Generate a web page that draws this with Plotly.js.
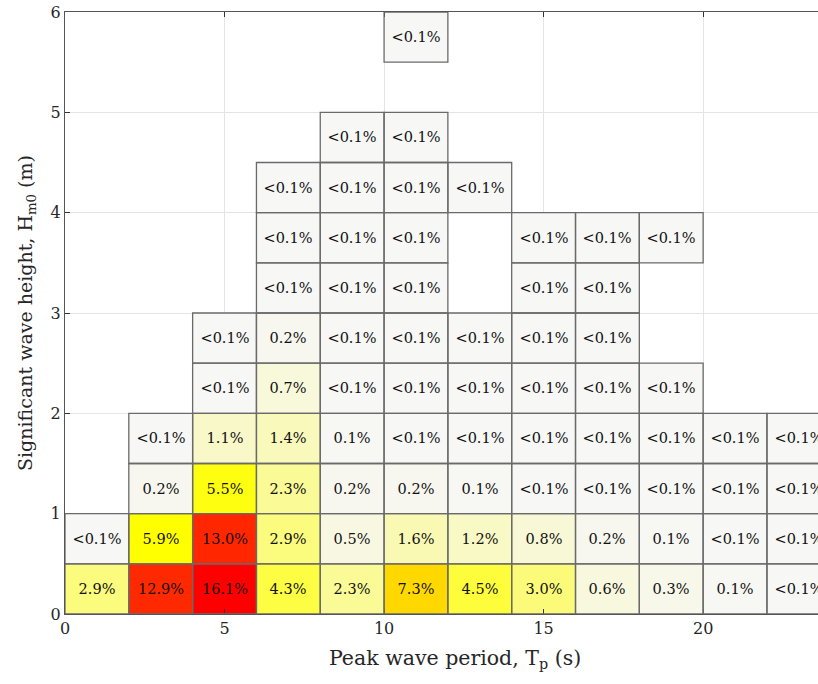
<!DOCTYPE html>
<html>
<head>
<meta charset="utf-8">
<script src="https://cdn.plot.ly/plotly-3.0.1.min.js"></script>
<style>html,body{margin:0;padding:0;background:#fff;}#chart{width:818px;height:684px;}</style>
</head>
<body>
<div id="chart"></div>
<script>
// Peak wave period bin centres (s), bin width 2 s
const tpCenters = [1, 3, 5, 7, 9, 11, 13, 15, 17, 19, 21, 23];
// Significant wave height bin centres (m), bin width 0.5 m
const hsCenters = [0.25, 0.75, 1.25, 1.75, 2.25, 2.75, 3.25, 3.75, 4.25, 4.75, 5.25, 5.75];
const tpBinWidth = 2;
const hsBinWidth = 0.5;
// Occurrence (%) per cell; 0.05 stands for "<0.1%", null = no occurrence
const L = 0.05;
const row0 = [2.9, 12.9, 16.1, 4.3, 2.3, 7.3, 4.5, 3.0, 0.6, 0.3, 0.1, L];
const row1 = [L, 5.9, 13.0, 2.9, 0.5, 1.6, 1.2, 0.8, 0.2, 0.1, L, L];
const row2 = [null, 0.2, 5.5, 2.3, 0.2, 0.2, 0.1, L, L, L, L, L];
const row3 = [null, L, 1.1, 1.4, 0.1, L, L, L, L, L, L, L];
const row4 = [null, null, L, 0.7, L, L, L, L, L, L, null, null];
const row5 = [null, null, L, 0.2, L, L, L, L, L, null, null, null];
const row6 = [null, null, null, L, L, L, null, L, L, null, null, null];
const row7 = [null, null, null, L, L, L, null, L, L, L, null, null];
const row8 = [null, null, null, L, L, L, L, null, null, null, null, null];
const row9 = [null, null, null, null, L, L, null, null, null, null, null, null];
const row10 = [null, null, null, null, null, null, null, null, null, null, null, null];
const row11 = [null, null, null, null, null, L, null, null, null, null, null, null];
const occurrence = [row0, row1, row2, row3, row4, row5, row6, row7, row8, row9, row10, row11];
const xTicks = [0, 5, 10, 15, 20];
const yTicks = [0, 1, 2, 3, 4, 5, 6];

const labels = occurrence.map(r => r.map(v => v === null ? '' : (v < 0.1 ? '<0.1%' : v.toFixed(1) + '%')));

const zmax = 16.1;
const colorscale = [
  [0, '#f7f7f7'],
  [5.9 / zmax, '#ffff00'],
  [7.3 / zmax, '#ffd800'],
  [13.0 / zmax, '#ff2600'],
  [1, '#ff0000']
];

const shapes = [];
occurrence.forEach((r, i) => r.forEach((v, j) => {
  if (v === null) return;
  shapes.push({
    type: 'rect', xref: 'x', yref: 'y', layer: 'above',
    x0: tpCenters[j] - tpBinWidth / 2, x1: tpCenters[j] + tpBinWidth / 2,
    y0: hsCenters[i] - hsBinWidth / 2, y1: hsCenters[i] + hsBinWidth / 2,
    line: {color: '#6a6a6a', width: 1.3}, fillcolor: 'rgba(0,0,0,0)'
  });
}));

const font = 'DejaVu Serif';

const trace = {
  type: 'heatmap',
  x: tpCenters, y: hsCenters, z: occurrence,
  text: labels, texttemplate: '%{text}',
  textfont: {family: font, size: 14.5, color: '#111'},
  colorscale: colorscale, zmin: 0, zmax: zmax,
  showscale: false, hoverinfo: 'skip'
};

const layout = {
  width: 818, height: 684,
  margin: {l: 65, r: 0, t: 12, b: 70},
  paper_bgcolor: '#fff', plot_bgcolor: '#fff',
  showlegend: false,
  font: {family: font, color: '#262626'},
  xaxis: {
    range: [0, 23.6], tickvals: xTicks, ticktext: xTicks.map(String),
    showgrid: true, gridcolor: '#e4e4e4', gridwidth: 1,
    zeroline: false, showline: true, linecolor: '#555', linewidth: 1.2,
    mirror: 'ticks', ticks: 'inside', ticklen: 5, tickcolor: '#333',
    tickfont: {family: font, size: 16, color: '#262626'}
  },
  yaxis: {
    range: [0, 6], tickvals: yTicks, ticktext: yTicks.map(String),
    showgrid: true, gridcolor: '#e4e4e4', gridwidth: 1,
    zeroline: false, showline: true, linecolor: '#555', linewidth: 1.2,
    mirror: false, ticks: 'inside', ticklen: 5, tickcolor: '#333',
    tickfont: {family: font, size: 16, color: '#262626'},
    title: {text: 'Significant wave height, H<sub>m0</sub> (m)', font: {family: font, size: 19, color: '#262626'}, standoff: 12}
  },
  annotations: [{
    xref: 'paper', yref: 'paper', x: 0.518, y: -0.05, xanchor: 'center', yanchor: 'top',
    text: 'Peak wave period, T<sub>p</sub> (s)', showarrow: false,
    font: {family: font, size: 20.5, color: '#262626'}
  }],
  shapes: shapes
};

Plotly.newPlot('chart', [trace], layout, {displayModeBar: false, staticPlot: true});
</script>
</body>
</html>
